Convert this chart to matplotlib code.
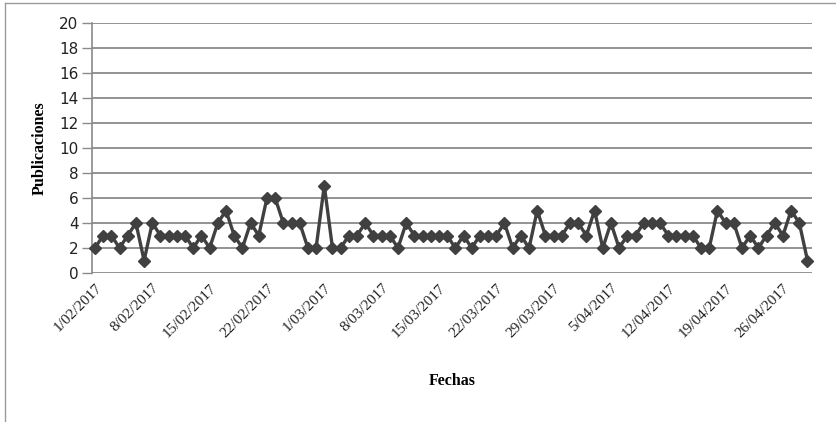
import matplotlib
matplotlib.use("Agg")
import matplotlib.pyplot as plt
from matplotlib.lines import Line2D

# daily publication counts, 1/02/2017 .. 29/04/2017
publicaciones = [2, 3, 3, 2, 3, 4, 1, 4, 3, 3, 3, 3, 2, 3, 2, 4, 5, 3, 2, 4,
                 3, 6, 6, 4, 4, 4, 2, 2, 7, 2, 2, 3, 3, 4, 3, 3, 3, 2, 4, 3,
                 3, 3, 3, 3, 2, 3, 2, 3, 3, 3, 4, 2, 3, 2, 5, 3, 3, 3, 4, 4,
                 3, 5, 2, 4, 2, 3, 3, 4, 4, 4, 3, 3, 3, 3, 2, 2, 5, 4, 4, 2,
                 3, 2, 3, 4, 3, 5, 4, 1]
tick_pos = [0, 7, 14, 21, 28, 35, 42, 49, 56, 63, 70, 77, 84]
tick_labels = ["1/02/2017", "8/02/2017", "15/02/2017", "22/02/2017", "1/03/2017",
               "8/03/2017", "15/03/2017", "22/03/2017", "29/03/2017", "5/04/2017",
               "12/04/2017", "19/04/2017", "26/04/2017"]
y_ticks = list(range(0, 21, 2))

W, H = 837, 422
fig = plt.figure(figsize=(W / 100, H / 100), dpi=100)
ax = fig.add_axes([92.5 / W, 1 - 273 / H, (812 - 92.5) / W, (273 - 23) / H])

GRID = "#8a8a8a"
x = list(range(len(publicaciones)))
ax.plot(x, publicaciones, color="#404040", lw=2.4, marker="D", ms=6.5,
        mec="#404040", mfc="#404040", zorder=3, clip_on=False)

ax.set_ylim(0, 20)
ax.set_xlim(-0.3, len(publicaciones) - 1 + 0.55)
ax.set_yticks(y_ticks)
for v in y_ticks:
    ax.axhline(v, color=GRID, lw=1.3, zorder=1)
ax.set_yticklabels([str(v) for v in y_ticks], fontsize=11, family="Liberation Sans Narrow",
                   color="#222222")
ax.tick_params(axis="y", length=7, width=1, color=GRID, pad=3)
ax.set_xticks(tick_pos)
ax.set_xticklabels(tick_labels, rotation=45, ha="right", va="top", rotation_mode="anchor",
                   fontsize=11, family="Liberation Serif", color="#222222")
ax.tick_params(axis="x", length=0, pad=6)
for s in ["top", "right", "bottom"]:
    ax.spines[s].set_visible(False)
ax.spines["left"].set_color(GRID)
ax.spines["left"].set_linewidth(1.2)

ax.set_ylabel("Publicaciones", fontsize=11.5, family="Liberation Serif", fontweight="bold",
              labelpad=8)
ax.set_xlabel("Fechas", fontsize=11.5, family="Liberation Serif", fontweight="bold",
              labelpad=24)

# outer chart border (partly off-canvas as in the reference)
fig.add_artist(Line2D([5 / W, 5 / W], [0, 1 - 3 / H], transform=fig.transFigure,
                      color="#9a9a9a", lw=1))
fig.add_artist(Line2D([5 / W, 1], [1 - 3 / H, 1 - 3 / H], transform=fig.transFigure,
                      color="#9a9a9a", lw=1))

fig.savefig("out.png", dpi=100)
